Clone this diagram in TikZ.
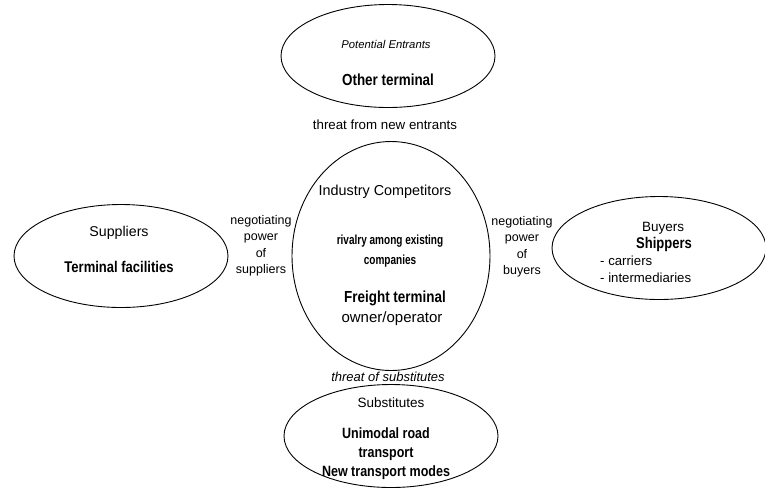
\documentclass[tikz,border=0pt]{standalone}
\usepackage{fontspec}
\setmainfont{Liberation Sans}
\newfontfamily\condfont{Liberation Sans}[FakeStretch=0.84]
\newfontfamily\narrowfont{Liberation Sans}[FakeStretch=0.76]
\usetikzlibrary{shapes.geometric, positioning}

\begin{document}
\begin{tikzpicture}[x=1pt, y=-1pt,
  force/.style={ellipse, draw, line width=0.9pt, inner sep=0pt, minimum width=214pt, minimum height=103pt},
  txt/.style={align=center, inner sep=0pt, font=\fontsize{13.5}{16}\selectfont},
  btxt/.style={txt, font=\fontsize{15.5}{19}\selectfont\condfont\bfseries},
  itxt/.style={txt, font=\fontsize{13}{15}\selectfont\itshape},
  power/.style={txt, font=\fontsize{12.5}{16.5}\selectfont}
]
  \useasboundingbox (0,0) rectangle (765,491);

  % the five forces
  \node[force] (entrants) at (388,56) {};
  \node[force] (suppliers) at (121,256) {};
  \node[force] (buyers) at (659,248) {};
  \node[force, minimum width=198pt, minimum height=229pt] (rivals) at (391,256) {};
  \node[force] (substitutes) at (391,436) {};

  % potential entrants
  \node[itxt, font=\fontsize{11.3}{13}\selectfont\itshape] (entrantsA) at (386,44) {Potential Entrants};
  \node[btxt, font=\fontsize{16}{19}\selectfont\condfont\bfseries] (entrantsB) at (388,80) {Other terminal};
  \node[txt, font=\fontsize{13.3}{15}\selectfont] (threatN) at (385,125) {threat from new entrants};

  % suppliers
  \node[txt, font=\fontsize{14.2}{16}\selectfont] (suppliersA) at (119,233) {Suppliers};
  \node[btxt] (suppliersB) at (119,267) {Terminal facilities};
  \node[power] (powerS) at (261,246) {negotiating\\power\\of\\suppliers};

  % buyers
  \node[power] (powerB) at (522,247) {negotiating\\power\\of\\buyers};
  \node[txt] (buyersA) at (663,228) {Buyers};
  \node[btxt] (buyersS) at (664,244) {Shippers};
  \node[txt, align=left, anchor=west, font=\fontsize{13.2}{17}\selectfont] (buyersB) at (600,269) {- carriers\\- intermediaries};

  % industry competitors
  \node[txt, font=\fontsize{14.4}{16}\selectfont] (rivalsA) at (385,192) {Industry Competitors};
  \node[txt, font=\fontsize{13.2}{20}\selectfont\narrowfont\bfseries] (rivalsB) at (390,251) {rivalry among existing\\companies};
  \node[btxt, font=\fontsize{16}{19}\selectfont\condfont\bfseries] (rivalsC) at (395,298) {Freight terminal};
  \node[txt, font=\fontsize{15}{17}\selectfont] (rivalsD) at (392,319) {owner/operator};
  \node[itxt] (threatS) at (388,377) {threat of substitutes};

  % substitutes
  \node[txt] (substitutesA) at (391,403) {Substitutes};
  \node[btxt, font=\fontsize{14.9}{19}\selectfont\condfont\bfseries] (substitutesB) at (386,454) {Unimodal road\\transport\\New transport modes};
\end{tikzpicture}
\end{document}
